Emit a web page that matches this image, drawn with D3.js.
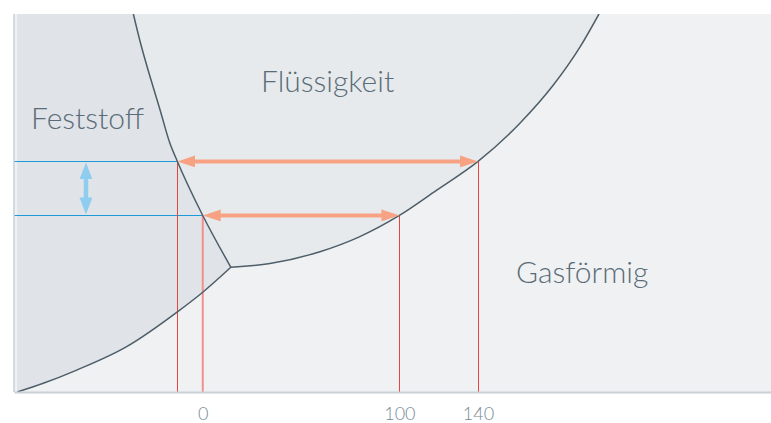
<!DOCTYPE html>
<html>
<head>
<meta charset="utf-8">
<script src="https://cdn.jsdelivr.net/npm/d3@7"></script>
<style>
  html, body { margin: 0; padding: 0; background: #fff; }
  #chart { display: block; font-family: Lato, "Open Sans", sans-serif; }
  .region-label { font-size: 30px; font-weight: 300; fill: #5a6c77; }
  .axis text { font-size: 18px; font-weight: 300; fill: #788b95; font-family: Lato, "Open Sans", sans-serif; }
  .axis .domain { stroke: #c9d1d7; stroke-width: 2px; }
  .curve { fill: none; stroke: #4d5e69; stroke-width: 1.5px; }
</style>
</head>
<body>
<svg id="chart" width="771" height="423"></svg>
<script>
// phase curves (temperature, pressure in arbitrary units)
const meltT = [-35.3, -31.6, -26.8, -21.7, -16.7, -12.9, 0, 14.3];
const meltP = [100, 92.2, 83.4, 74.6, 65.8, 61.0, 46.7, 33.0];
const sublT = [-94.3, -81.1, -64.1, -38.7, -12.9, 0, 14.3];
const sublP = [0, 2.3, 5.8, 12.0, 21.2, 26.4, 33.0];
const vapT = [14.3, 34.2, 59.6, 79.9, 100, 119, 140, 161.3, 178.3, 191.9, 201.5];
const vapP = [33.0, 34.0, 37.1, 41.1, 46.7, 53.4, 61.0, 71.1, 81.2, 91.3, 100];

// the two pressure levels and where they meet the curves
const levelP = [61.0, 46.7];
const levelMeltT = [-12.9, 0];
const levelVapT = [140, 100];

const tickValues = [0, 100, 140];
const labels = ["Feststoff", "Flüssigkeit", "Gasförmig"];

const margin = {top: 14, right: 0, bottom: 31, left: 14};
const svg = d3.select("#chart");
const width = +svg.attr("width") - margin.left - margin.right;
const height = +svg.attr("height") - margin.top - margin.bottom;

const x = d3.scaleLinear().domain([-96, 289]).range([margin.left, margin.left + width]);
const y = d3.scaleLinear().domain([0, 100]).range([margin.top + height, margin.top]);
// snap 1px lines to pixel centres so they stay crisp
const snap = v => Math.round(v - 0.5) + 0.5;

const zip = (ts, ps) => ts.map((t, i) => ({t: t, p: ps[i]}));
const melt = zip(meltT, meltP);
const subl = zip(sublT, sublP);
const vap = zip(vapT, vapP);

const line = d3.line().x(d => x(d.t)).y(d => y(d.p)).curve(d3.curveMonotoneX);
const areaAbove = d3.area().x(d => x(d.t)).y0(d => y(d.p)).y1(y(100)).curve(d3.curveMonotoneX);
const areaBelow = d3.area().x(d => x(d.t)).y0(y(0)).y1(d => y(d.p)).curve(d3.curveMonotoneX);

const defs = svg.append("defs");
defs.append("clipPath").attr("id", "plot-clip")
  .append("rect")
    .attr("x", margin.left).attr("y", margin.top)
    .attr("width", width).attr("height", height);
defs.append("clipPath").attr("id", "above-subl")
  .append("path").attr("d", areaAbove(subl));

function marker(id, len, wid, color) {
  defs.append("marker")
      .attr("id", id)
      .attr("viewBox", `0 0 ${len} ${wid}`)
      .attr("markerUnits", "userSpaceOnUse")
      .attr("markerWidth", len).attr("markerHeight", wid)
      .attr("refX", 2).attr("refY", wid / 2)
      .attr("orient", "auto-start-reverse")
    .append("path")
      .attr("d", `M0,0L${len},${wid / 2}L0,${wid}Z`)
      .attr("fill", color);
}
marker("head-orange", 18, 12, "#f7a283");
marker("head-blue", 17, 13, "#8ecdf0");

const plot = svg.append("g").attr("clip-path", "url(#plot-clip)");

// gas background
plot.append("rect")
    .attr("x", margin.left).attr("y", margin.top)
    .attr("width", width).attr("height", height)
    .attr("fill", "#f0f1f3");

// liquid (everything above sublimation + vaporization)
plot.append("path").attr("d", areaAbove(subl)).attr("fill", "#e7eaec");
plot.append("path").attr("d", areaAbove(vap)).attr("fill", "#e7eaec")
    .attr("stroke", "#e7eaec").attr("stroke-width", 0.5);

// solid: left of melting curve, above sublimation
const solid = plot.append("g").attr("clip-path", "url(#above-subl)").attr("fill", "#e0e3e7");
solid.append("rect")
    .attr("x", margin.left).attr("y", margin.top)
    .attr("width", x(meltT[0]) - margin.left + 1).attr("height", height);
solid.append("path").attr("d", areaBelow(melt));

// pressure level lines (blue)
plot.selectAll("line.level")
  .data(levelP)
  .join("line")
    .attr("class", "level")
    .attr("x1", margin.left)
    .attr("x2", (d, i) => x(levelMeltT[i]))
    .attr("y1", d => snap(y(d))).attr("y2", d => snap(y(d)))
    .attr("stroke", "#1f9ad8").attr("stroke-width", 1);

// temperature drops (red)
const drops = levelMeltT.map((t, i) => ({t: t, p: levelP[i]}))
  .concat(levelVapT.map((t, i) => ({t: t, p: levelP[i]})));
plot.selectAll("line.drop")
  .data(drops)
  .join("line")
    .attr("class", "drop")
    .attr("x1", d => d.t === 0 ? x(d.t) : snap(x(d.t)))
    .attr("x2", d => d.t === 0 ? x(d.t) : snap(x(d.t)))
    .attr("y1", d => y(d.p)).attr("y2", y(0))
    .attr("stroke", d => d.t === 0 ? "#f2918b" : "#e9453c")
    .attr("stroke-width", d => d.t === 0 ? 2 : 1);

// phase boundaries
[melt, subl, vap].forEach(c => plot.append("path").attr("class", "curve").attr("d", line(c)));

// boiling range arrows (orange)
plot.selectAll("line.range")
  .data(levelP)
  .join("line")
    .attr("class", "range")
    .attr("x1", (d, i) => x(levelMeltT[i]) + 16)
    .attr("x2", (d, i) => x(levelVapT[i]) - 16)
    .attr("y1", d => y(d)).attr("y2", d => y(d))
    .attr("stroke", "#f7a283").attr("stroke-width", 4)
    .attr("marker-start", "url(#head-orange)")
    .attr("marker-end", "url(#head-orange)");

// pressure change arrow (blue)
const arrowT = -59.4;
plot.append("line")
    .attr("x1", x(arrowT)).attr("x2", x(arrowT))
    .attr("y1", y(levelP[0]) + 16).attr("y2", y(levelP[1]) - 16)
    .attr("stroke", "#8ecdf0").attr("stroke-width", 4.5)
    .attr("marker-start", "url(#head-blue)")
    .attr("marker-end", "url(#head-blue)");

// left border
svg.append("line")
    .attr("x1", margin.left).attr("x2", margin.left)
    .attr("y1", margin.top).attr("y2", margin.top + height)
    .attr("stroke", "#c9d1d7").attr("stroke-width", 1.5);

// x axis
svg.append("g")
    .attr("class", "axis")
    .attr("transform", `translate(0,${margin.top + height})`)
    .call(d3.axisBottom(x).tickValues(tickValues).tickSize(0).tickSizeOuter(0).tickPadding(15));

// region labels
svg.append("text").attr("class", "region-label").attr("x", 31).attr("y", 129).text(labels[0]);
svg.append("text").attr("class", "region-label").attr("x", 261).attr("y", 92).text(labels[1]);
svg.append("text").attr("class", "region-label").attr("x", 516).attr("y", 283).text(labels[2]);
</script>
</body>
</html>
